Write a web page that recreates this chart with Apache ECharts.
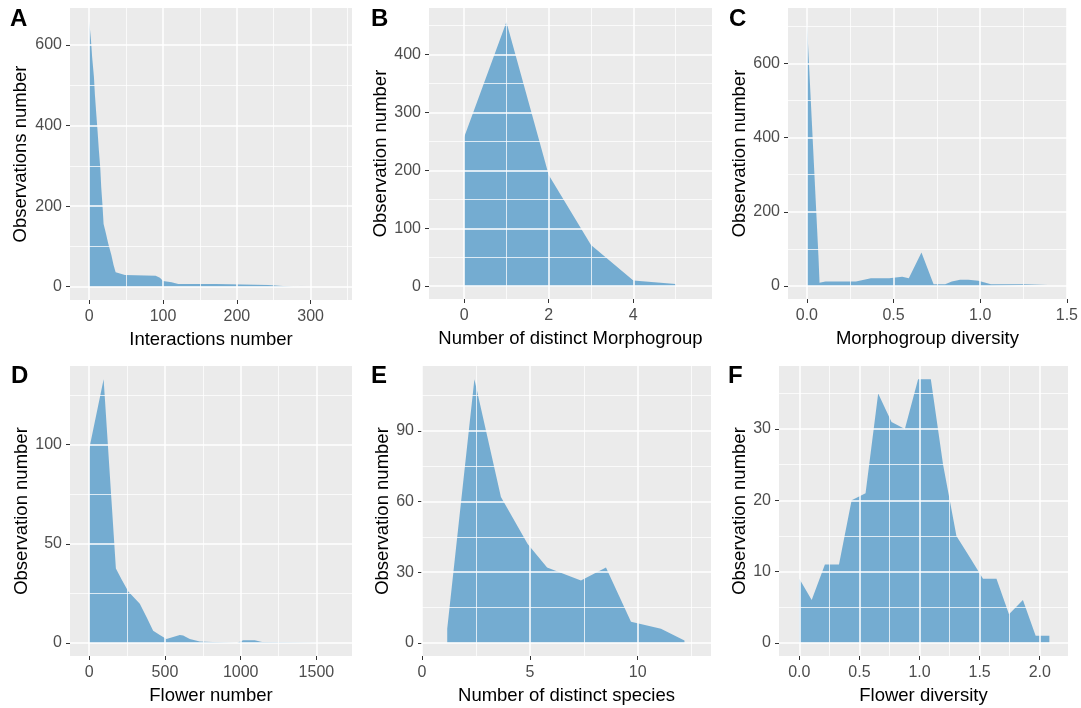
<!DOCTYPE html>
<html>
<head>
<meta charset="utf-8">
<script src="https://cdn.jsdelivr.net/npm/echarts@6/dist/echarts.min.js"></script>
<style>
html, body { margin: 0; padding: 0; background: #fff; }
#cn { width: 1081px; height: 708px; }
</style>
</head>
<body>
<div id="cn"></div>
<script>
'use strict';

// A - interactions
const interX = [0, 2.3, 4, 6.4, 7.7, 9.5, 11.3, 13, 15, 16.3, 18, 19.5, 22.6, 25.7, 30, 33, 35.8, 41.6, 48.4, 90, 95.8, 100, 111.6, 120.6, 172.6, 173, 242.5, 243, 277, 277.5, 294.6];
const interY = [659, 615, 570, 521, 478, 431, 387, 341, 295, 247, 202, 156, 133, 108, 79, 54, 36, 33, 29, 27, 22, 14, 11, 7, 7, 4, 4, 0, 0, 4, 4];

// B - distinct morphogroups
const morphX = [0, 1, 2, 3, 4, 5];
const morphY = [257, 456, 192, 71, 10, 4];

// C - morphogroup diversity
const mdivX = [0, 0.067, 0.073, 0.107, 0.283, 0.33, 0.369, 0.474, 0.483, 0.55, 0.588, 0.661, 0.731, 0.798, 0.836, 0.884, 0.932, 0.989, 1.062, 1.39];
const mdivY = [713, 77, 9, 12, 12, 17, 21, 21, 25, 25, 21, 90, 5, 5, 12, 17, 17, 14, 5, 5];

// D - flower number
const flowX = [0, 95, 176, 214, 258, 334, 379, 422, 466, 510, 532, 598, 620, 664, 730, 731, 976, 977, 1016, 1093, 1141, 1142, 1558, 1559, 1599];
const flowY = [98, 133, 37.6, 32, 26, 19.7, 13, 6.2, 4, 2, 2.5, 4, 3.7, 2, 0.7, 0, 0, 0.7, 1.4, 1.4, 0.5, 0, 0, 0.7, 0.7];

// E - distinct species
const specX = [1.17, 2.43, 3.66, 4.9, 5.8, 7.37, 8.53, 9.69, 11.08, 12.17];
const specY = [6, 112, 62, 42, 32, 26.5, 32, 9, 6, 1];

// F - flower diversity
const fdivX = [0, 0.103, 0.213, 0.33, 0.435, 0.551, 0.656, 0.767, 0.878, 0.988, 1.094, 1.196, 1.307, 1.418, 1.528, 1.64, 1.744, 1.86, 1.966, 2.08];
const fdivY = [9, 6, 11, 11, 20, 21, 35, 31, 30, 37, 37, 25, 15, 12, 9, 9, 4, 6, 1, 1];

// tick labels (major) and minor grid values
const ticksA = { x: [0, 100, 200, 300], xm: [50, 150, 250, 350], y: [0, 200, 400, 600], ym: [100, 300, 500] };
const ticksB = { x: [0, 2, 4], xm: [1, 3, 5], y: [0, 100, 200, 300, 400], ym: [50, 150, 250, 350, 450] };
const ticksC = { x: [0, 0.5, 1, 1.5], xm: [0.25, 0.75, 1.25], y: [0, 200, 400, 600], ym: [100, 300, 500, 700] };
const ticksD = { x: [0, 500, 1000, 1500], xm: [250, 750, 1250], y: [0, 50, 100], ym: [25, 75, 125] };
const ticksE = { x: [0, 5, 10], xm: [2.5, 7.5, 12.5], y: [0, 30, 60, 90], ym: [15, 45, 75, 105] };
const ticksF = { x: [0, 0.5, 1, 1.5, 2], xm: [0.25, 0.75, 1.25, 1.75], y: [0, 10, 20, 30], ym: [5, 15, 25, 35] };

const FONT = '"Liberation Sans", Arial, sans-serif';
const fill = 'rgba(66, 146, 198, 0.7)';

const panels = [
    { letter: 'A', lx: 10, ly: 7, grid: [70, 8, 282, 292], xr: [-26, 356], yr: [-33, 692], t: ticksA, xs: interX, ys: interY,
      xName: 'Interactions number', yName: 'Observations number', yGap: 40, dec: false },
    { letter: 'B', lx: 371, ly: 7, grid: [429, 8, 283, 291], xr: [-0.83, 5.86], yr: [-22, 480], t: ticksB, xs: morphX, ys: morphY,
      xName: 'Number of distinct Morphogroup', yName: 'Observation number', yGap: 32, dec: false },
    { letter: 'C', lx: 729, ly: 7, grid: [788, 8, 281, 291], xr: [-0.109, 1.5], yr: [-35, 749], t: ticksC, xs: mdivX, ys: mdivY,
      xName: 'Morphogroup diversity', yName: 'Observation number', yGap: 30, dec: true },
    { letter: 'D', lx: 11, ly: 364, grid: [70, 366, 282, 290], xr: [-127, 1735], yr: [-6.6, 139.7], t: ticksD, xs: flowX, ys: flowY,
      xName: 'Flower number', yName: 'Observation number', yGap: 39, dec: false },
    { letter: 'E', lx: 371, ly: 364, grid: [422, 366, 289, 290], xr: [0, 13.4], yr: [-5.6, 117.6], t: ticksE, xs: specX, ys: specY,
      xName: 'Number of distinct species', yName: 'Observation number', yGap: 28, dec: false },
    { letter: 'F', lx: 728, ly: 364, grid: [779, 366, 289, 290], xr: [-0.169, 2.235], yr: [-1.85, 38.85], t: ticksF, xs: fdivX, ys: fdivY,
      xName: 'Flower diversity', yName: 'Observation number', yGap: 22, dec: true }
];

const option = {
    backgroundColor: '#fff',
    animation: false,
    title: [],
    grid: [],
    xAxis: [],
    yAxis: [],
    series: []
};

panels.forEach((p, i) => {
    option.title.push({
        text: p.letter, left: p.lx, top: p.ly, padding: 0,
        textStyle: { fontFamily: FONT, fontSize: 24, fontWeight: 'bold', color: '#000' }
    });
    option.grid.push({
        left: p.grid[0], top: p.grid[1], width: p.grid[2], height: p.grid[3],
        show: true, backgroundColor: '#EBEBEB', borderWidth: 0
    });
    const fmt = v => p.dec ? v.toFixed(1) : String(v);
    option.xAxis.push({
        type: 'value', gridIndex: i, min: p.xr[0], max: p.xr[1],
        name: p.xName, nameLocation: 'middle', nameGap: 30,
        nameTextStyle: { fontFamily: FONT, fontSize: 18.5, color: '#000' },
        axisLine: { show: false, onZero: false },
        axisTick: { show: true, customValues: p.t.x, length: 4, lineStyle: { color: '#333', width: 1 } },
        axisLabel: { customValues: p.t.x, formatter: fmt, margin: 9, fontFamily: FONT, fontSize: 16, color: '#4D4D4D' },
        splitLine: { show: false }
    });
    option.yAxis.push({
        type: 'value', gridIndex: i, min: p.yr[0], max: p.yr[1],
        name: p.yName, nameLocation: 'middle', nameGap: p.yGap, nameRotate: 90,
        nameTextStyle: { fontFamily: FONT, fontSize: 18.5, color: '#000' },
        axisLine: { show: false, onZero: false },
        axisTick: { show: true, customValues: p.t.y, length: 4, lineStyle: { color: '#333', width: 1 } },
        axisLabel: { customValues: p.t.y, margin: 8, fontFamily: FONT, fontSize: 16, color: '#4D4D4D' },
        splitLine: { show: false }
    });

    const pts = p.xs.map((x, k) => [x, p.ys[k]]);
    const lines = []
        .concat(p.t.x.map(v => ({ xAxis: v, lineStyle: { width: 1.5 } })))
        .concat(p.t.xm.filter(v => v > p.xr[0] && v < p.xr[1]).map(v => ({ xAxis: v, lineStyle: { width: 0.75 } })))
        .concat(p.t.y.map(v => ({ yAxis: v, lineStyle: { width: 1.5 } })))
        .concat(p.t.ym.filter(v => v > p.yr[0] && v < p.yr[1]).map(v => ({ yAxis: v, lineStyle: { width: 0.75 } })));

    // grid lines under the area
    option.series.push({
        type: 'line', xAxisIndex: i, yAxisIndex: i, z: 1, silent: true,
        data: pts, showSymbol: false, symbol: 'none',
        lineStyle: { opacity: 0 },
        markLine: {
            silent: true, symbol: ['none', 'none'], animation: false,
            label: { show: false },
            lineStyle: { color: '#fff', type: 'solid' },
            data: lines
        }
    });
    option.series.push({
        type: 'line', xAxisIndex: i, yAxisIndex: i, z: 3, silent: true,
        data: pts, showSymbol: false, symbol: 'none',
        lineStyle: { width: 0, opacity: 0 },
        areaStyle: { color: fill, opacity: 1 }
    });
});

const echartsFig = echarts.init(document.getElementById('cn'));
echartsFig.setOption(option);
</script>
</body>
</html>
